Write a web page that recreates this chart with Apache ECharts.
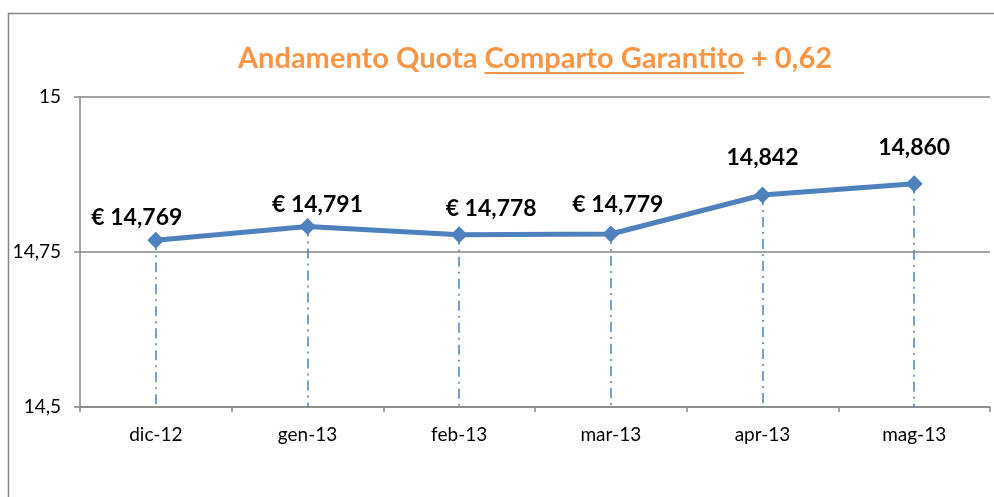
<!DOCTYPE html>
<html>
<head>
<meta charset="utf-8">
<title>Andamento Quota</title>
<script src="https://cdn.jsdelivr.net/npm/echarts@6/dist/echarts.min.js"></script>
<style>
	html, body { margin: 0; padding: 0; background: #fff; }
	#chart { width: 994px; height: 497px; }
</style>
</head>
<body>
<div id="chart"></div>
<script>
// dati del grafico
var months = ['dic-12', 'gen-13', 'feb-13', 'mar-13', 'apr-13', 'mag-13'];
var quota = [14.769, 14.791, 14.778, 14.779, 14.842, 14.860];
var pointLabels = ['€ 14,769', '€ 14,791', '€ 14,778', '€ 14,779', '14,842', '14,860'];
var yTicks = [14.5, 14.75, 15];
var yTickLabels = ['14,5', '14,75', '15'];
var titleParts = ['Andamento Quota ', 'Comparto Garantito', ' + 0,62'];

// spostamento delle etichette (come nel foglio originale)
var labelShift = [[-19, -23], [10, -22], [32, -26], [7, -29], [0, -37], [0, -36]];

var blue = '#4F81BD';
var orange = '#F79646';
var axisGray = '#868686';
var font = 'Lato';
var titleSize = 29;
var titleX = 535, titleY = 59;

// misura del titolo per posizionare la sottolineatura
function textWidth(str) {
	var ctx = document.createElement('canvas').getContext('2d');
	ctx.font = 'bold ' + titleSize + 'px ' + font;
	return ctx.measureText(str).width;
}
var fullW = textWidth(titleParts.join(''));
var uStart = titleX - fullW / 2 + textWidth(titleParts[0]);
var uEnd = uStart + textWidth(titleParts[1]);

var myChart = echarts.init(document.getElementById('chart'));

var seriesData = quota.map(function(v, i) {
	return {
		value: v,
		label: { offset: labelShift[i] }
	};
});

// linee verticali tratto-punto fino all'asse
var dropLines = quota.map(function(v, i) {
	return [{ coord: [i, v] }, { coord: [i, yTicks[0]] }];
});

var option = {
	animation: false,
	grid: { left: 80, right: 4, top: 97, bottom: 90 },
	graphic: [
		{ // cornice del grafico
			type: 'rect',
			shape: { x: 8.5, y: 13.5, width: 1000, height: 500 },
			style: { fill: 'none', stroke: axisGray, lineWidth: 1.5 },
			silent: true
		},
		{ // titolo
			type: 'text',
			x: titleX,
			y: titleY,
			style: {
				text: titleParts.join(''),
				align: 'center',
				verticalAlign: 'middle',
				font: 'bold ' + titleSize + 'px ' + font,
				fill: orange
			}
		},
		{ // sottolineatura
			type: 'line',
			shape: { x1: uStart, y1: 73, x2: uEnd, y2: 73 },
			style: { stroke: orange, lineWidth: 2 }
		}
	],
	xAxis: {
		type: 'category',
		data: months,
		boundaryGap: true,
		axisLine: { lineStyle: { color: axisGray, width: 1.5 } },
		axisTick: { show: true, length: 5, lineStyle: { color: axisGray, width: 1.5 } },
		axisLabel: { color: '#000', fontFamily: font, fontSize: 19, margin: 18 },
		splitLine: { show: false }
	},
	yAxis: {
		type: 'value',
		min: yTicks[0],
		max: yTicks[yTicks.length - 1],
		interval: 0.25,
		axisLine: { show: true, lineStyle: { color: axisGray, width: 1.5 } },
		axisTick: { show: true, length: 6, lineStyle: { color: axisGray, width: 1.5 } },
		axisLabel: {
			color: '#000',
			fontFamily: font,
			fontSize: 19,
			margin: 19,
			formatter: function(v) {
				var idx = yTicks.indexOf(v);
				return idx >= 0 ? yTickLabels[idx] : '';
			}
		},
		splitLine: { show: true, lineStyle: { color: axisGray, width: 1.5 } }
	},
	series: [{
		type: 'line',
		data: seriesData,
		symbol: 'diamond',
		symbolSize: 17,
		lineStyle: { color: blue, width: 5 },
		itemStyle: { color: blue },
		label: {
			show: true,
			position: 'inside',
			color: '#000',
			fontFamily: font,
			fontWeight: 'bold',
			fontSize: 23,
			formatter: function(p) { return pointLabels[p.dataIndex]; }
		},
		markLine: {
			silent: true,
			symbol: 'none',
			z: 1,
			label: { show: false },
			lineStyle: { color: blue, width: 1.5, type: [10, 5, 2, 5] },
			data: dropLines
		}
	}]
};

myChart.setOption(option);
</script>
</body>
</html>
